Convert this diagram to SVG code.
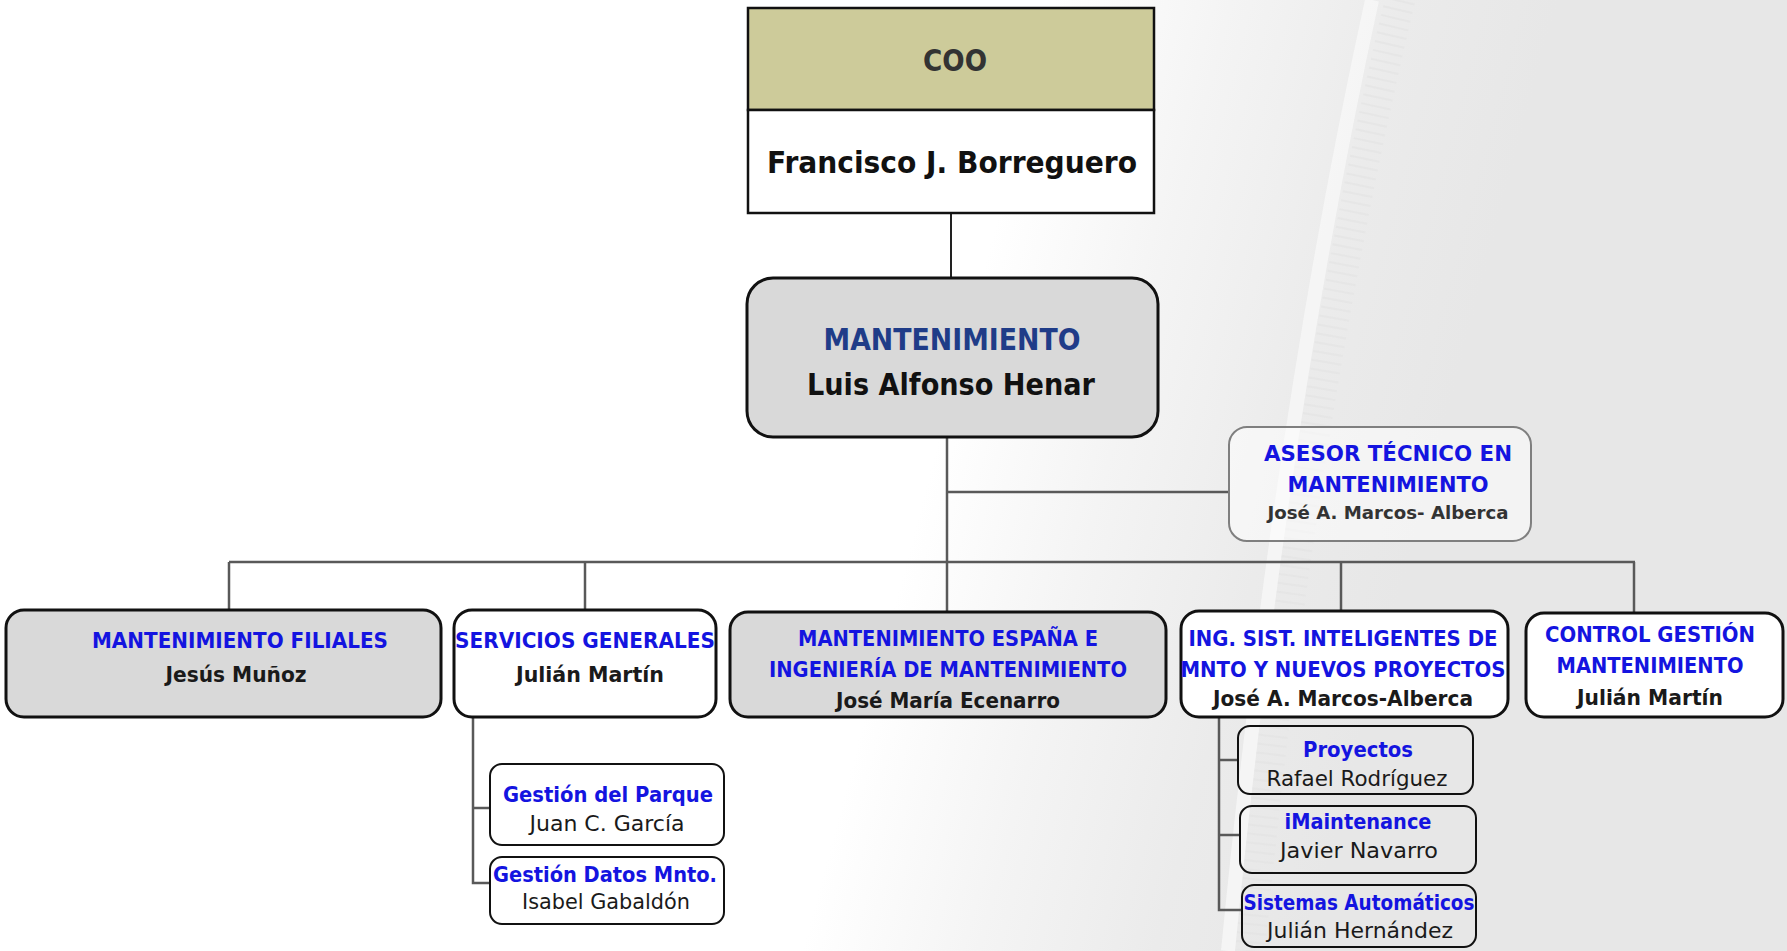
<svg xmlns="http://www.w3.org/2000/svg" width="1787" height="951" viewBox="0 0 1787 951">
<defs>
<linearGradient id="bg" gradientUnits="userSpaceOnUse" x1="930" y1="470" x2="1400" y2="595">
<stop offset="0" stop-color="#ffffff"/>
<stop offset="0.35" stop-color="#f4f4f4"/>
<stop offset="0.7" stop-color="#ebebeb"/>
<stop offset="1" stop-color="#e7e7e7"/>
</linearGradient>
<style>
.box{stroke:#111;stroke-width:3}
.grey{fill:#d9d9d9}
.white{fill:#ffffff}
.sub{stroke:#111;stroke-width:2;fill:none}
.subw{stroke:#111;stroke-width:2;fill:#ffffff}
.con{stroke:#595959;stroke-width:2.5;fill:none}
.conb{stroke:#222;stroke-width:2;fill:none}
text{font-family:"DejaVu Sans Condensed","DejaVu Sans","Liberation Sans",sans-serif;text-anchor:middle}
.t1{font-family:"DejaVu Sans","Liberation Sans",sans-serif;font-weight:bold;font-size:30px;fill:#111}
.tb{font-weight:bold;font-size:22px;fill:#1414e0}
.tn{font-weight:bold;font-size:22px;fill:#1a1a1a}
.ta{font-weight:bold;font-size:18px;fill:#333}
.sb{font-family:"DejaVu Sans","Liberation Sans",sans-serif;font-weight:bold;font-size:21px;fill:#1414e0}
.sn{font-family:"DejaVu Sans","Liberation Sans",sans-serif;font-size:21px;fill:#1a1a1a}
</style>
</defs>
<rect x="0" y="0" width="1787" height="951" fill="url(#bg)"/>
<g id="background-rail">
<path d="M1400 0 Q1300 420 1250 951" stroke="#e2e2e2" stroke-width="30" fill="none" stroke-dasharray="2 7" opacity="0.6"/>
<path d="M1372 0 Q1280 420 1228 951" stroke="#f7f7f7" stroke-width="14" fill="none" opacity="0.8"/>
</g>

<g id="connectors">
<line class="conb" x1="951" y1="213" x2="951" y2="278"/>
<line class="con" x1="947" y1="437" x2="947" y2="612"/>
<line class="con" x1="947" y1="492" x2="1229" y2="492"/>
<line class="con" x1="229" y1="562" x2="1635" y2="562"/>
<line class="con" x1="229" y1="562" x2="229" y2="610"/>
<line class="con" x1="585" y1="562" x2="585" y2="610"/>
<line class="con" x1="1341" y1="562" x2="1341" y2="611"/>
<line class="con" x1="1634" y1="562" x2="1634" y2="613"/>
<polyline class="con" points="473,717 473,883 490,883"/>
<line class="con" x1="473" y1="808" x2="490" y2="808"/>
<polyline class="con" points="1219,717 1219,910 1242,910"/>
<line class="con" x1="1219" y1="760" x2="1238" y2="760"/>
<line class="con" x1="1219" y1="835" x2="1240" y2="835"/>
</g>

<g id="coo">
<rect x="748" y="8" width="406" height="102" fill="#cdcb9a" stroke="#111" stroke-width="2.5"/>
<rect x="748" y="110" width="406" height="103" fill="#ffffff" stroke="#111" stroke-width="2.5"/>
<text class="t1" x="955" y="71" style="fill:#333" textLength="64" lengthAdjust="spacingAndGlyphs">COO</text>
<text class="t1" x="952" y="173" font-size="32" textLength="370" lengthAdjust="spacingAndGlyphs">Francisco J. Borreguero</text>
</g>

<g id="mantenimiento">
<rect class="box grey" x="747" y="278" width="411" height="159" rx="26"/>
<text class="t1" x="952" y="350" style="fill:#1f3c88" textLength="257" lengthAdjust="spacingAndGlyphs">MANTENIMIENTO</text>
<text class="t1" x="951" y="395" textLength="288" lengthAdjust="spacingAndGlyphs">Luis Alfonso Henar</text>
</g>

<g id="asesor">
<rect x="1229" y="427" width="302" height="114" rx="18" fill="#ffffff" fill-opacity="0.5" stroke="#7f7f7f" stroke-width="2"/>
<text class="tb" x="1388" y="461" textLength="248" lengthAdjust="spacingAndGlyphs">ASESOR TÉCNICO EN</text>
<text class="tb" x="1388" y="492" textLength="201" lengthAdjust="spacingAndGlyphs">MANTENIMIENTO</text>
<text class="ta" x="1388" y="519" textLength="241" lengthAdjust="spacingAndGlyphs">José A. Marcos- Alberca</text>
</g>

<g id="filiales">
<rect class="box grey" x="6" y="610" width="435" height="107" rx="18"/>
<text class="tb" x="240" y="648" textLength="296" lengthAdjust="spacingAndGlyphs">MANTENIMIENTO FILIALES</text>
<text class="tn" x="236" y="682" textLength="141" lengthAdjust="spacingAndGlyphs">Jesús Muñoz</text>
</g>

<g id="servicios">
<rect class="box white" x="454" y="610" width="262" height="107" rx="18"/>
<text class="tb" x="585" y="648" textLength="260" lengthAdjust="spacingAndGlyphs">SERVICIOS GENERALES</text>
<text class="tn" x="590" y="682" textLength="148" lengthAdjust="spacingAndGlyphs">Julián Martín</text>
</g>

<g id="espana">
<rect class="box grey" x="730" y="612" width="436" height="105" rx="18"/>
<text class="tb" x="948" y="646" textLength="300" lengthAdjust="spacingAndGlyphs">MANTENIMIENTO ESPAÑA E</text>
<text class="tb" x="948" y="677" textLength="358" lengthAdjust="spacingAndGlyphs">INGENIERÍA DE MANTENIMIENTO</text>
<text class="tn" x="948" y="708" textLength="224" lengthAdjust="spacingAndGlyphs">José María Ecenarro</text>
</g>

<g id="ing">
<rect class="box white" x="1181" y="611" width="327" height="106" rx="18"/>
<text class="tb" x="1343" y="646" textLength="309" lengthAdjust="spacingAndGlyphs">ING. SIST. INTELIGENTES DE</text>
<text class="tb" x="1343" y="677" textLength="325" lengthAdjust="spacingAndGlyphs">MNTO Y NUEVOS PROYECTOS</text>
<text class="tn" x="1343" y="706" textLength="260" lengthAdjust="spacingAndGlyphs">José A. Marcos-Alberca</text>
</g>

<g id="control">
<rect class="box white" x="1526" y="613" width="257" height="104" rx="18"/>
<text class="tb" x="1650" y="642" textLength="210" lengthAdjust="spacingAndGlyphs">CONTROL GESTIÓN</text>
<text class="tb" x="1650" y="673" textLength="187" lengthAdjust="spacingAndGlyphs">MANTENIMIENTO</text>
<text class="tn" x="1650" y="705" textLength="146" lengthAdjust="spacingAndGlyphs">Julián Martín</text>
</g>

<g id="gestion-parque">
<rect class="subw" x="490" y="764" width="234" height="81" rx="12"/>
<text class="sb" x="608" y="802" textLength="210" lengthAdjust="spacingAndGlyphs">Gestión del Parque</text>
<text class="sn" x="607" y="831" textLength="155" lengthAdjust="spacingAndGlyphs">Juan C. García</text>
</g>

<g id="gestion-datos">
<rect class="subw" x="490" y="857" width="234" height="67" rx="12"/>
<text class="sb" x="605" y="882" textLength="224" lengthAdjust="spacingAndGlyphs">Gestión Datos Mnto.</text>
<text class="sn" x="606" y="909" textLength="168" lengthAdjust="spacingAndGlyphs">Isabel Gabaldón</text>
</g>

<g id="proyectos">
<rect class="sub" x="1238" y="726" width="235" height="68" rx="12"/>
<text class="sb" x="1358" y="757" textLength="110" lengthAdjust="spacingAndGlyphs">Proyectos</text>
<text class="sn" x="1357" y="786" textLength="181" lengthAdjust="spacingAndGlyphs">Rafael Rodríguez</text>
</g>

<g id="imaintenance">
<rect class="sub" x="1240" y="806" width="236" height="67" rx="12"/>
<text class="sb" x="1358" y="829" textLength="147" lengthAdjust="spacingAndGlyphs">iMaintenance</text>
<text class="sn" x="1359" y="858" textLength="158" lengthAdjust="spacingAndGlyphs">Javier Navarro</text>
</g>

<g id="sistemas">
<rect class="sub" x="1242" y="885" width="234" height="62" rx="12"/>
<text class="sb" x="1359" y="910" textLength="231" lengthAdjust="spacingAndGlyphs">Sistemas Automáticos</text>
<text class="sn" x="1360" y="938" textLength="186" lengthAdjust="spacingAndGlyphs">Julián Hernández</text>
</g>
</svg>
